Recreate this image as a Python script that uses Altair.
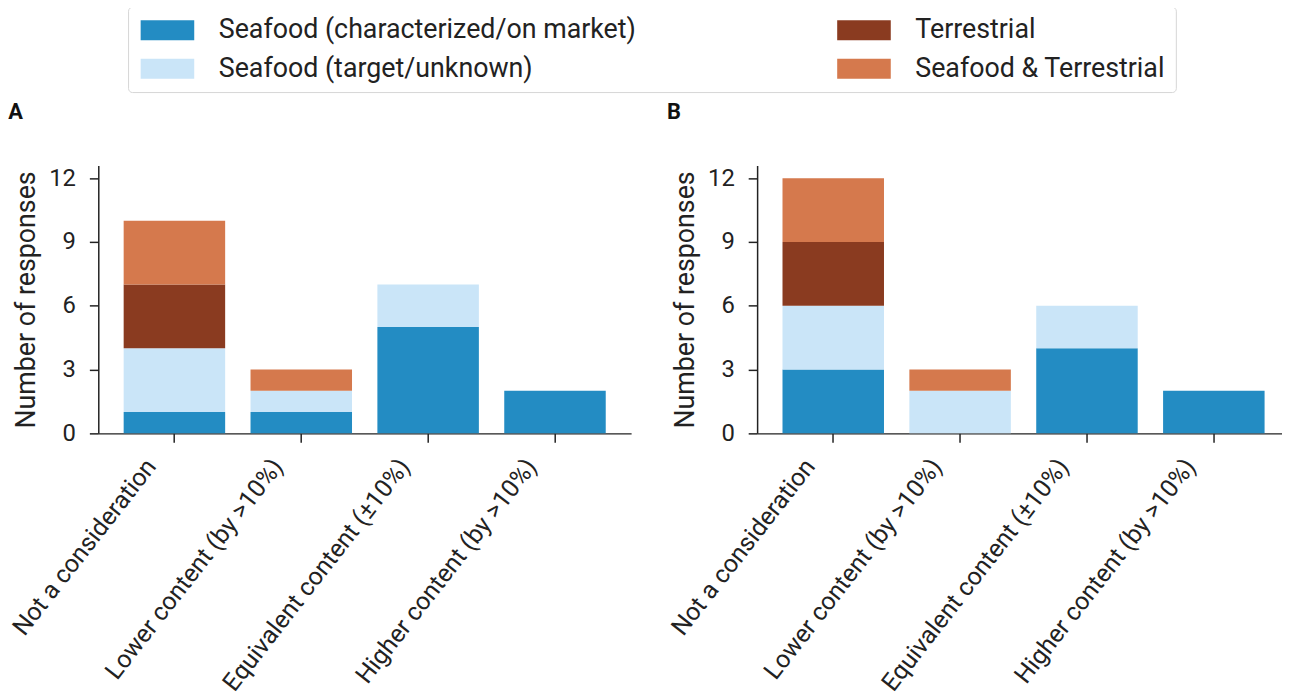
import altair as alt
import pandas as pd

categories = ["Not a consideration", "Lower content (by >10%)",
              "Equivalent content (\u00b110%)", "Higher content (by >10%)"]
groups = ["Seafood (characterized/on market)", "Seafood (target/unknown)",
          "Terrestrial", "Seafood & Terrestrial"]
group_colors = ["#238cc3", "#cae5f8", "#8a3b20", "#d5794d"]

a_characterized = [1, 1, 5, 2]
a_target = [3, 1, 2, 0]
a_terrestrial = [3, 0, 0, 0]
a_both = [3, 1, 0, 0]

b_characterized = [3, 0, 4, 2]
b_target = [3, 2, 2, 0]
b_terrestrial = [3, 0, 0, 0]
b_both = [3, 1, 0, 0]


def frame(series):
    rows = []
    for gi, (g, vals) in enumerate(zip(groups, series)):
        for c, v in zip(categories, vals):
            rows.append({"category": c, "group": g, "order": gi, "value": v})
    return pd.DataFrame(rows)


df_a = frame([a_characterized, a_target, a_terrestrial, a_both])
df_b = frame([b_characterized, b_target, b_terrestrial, b_both])

# legend order arranged so a 2-column row-major grid reads column-wise
legend_domain = [groups[0], groups[2], groups[1], groups[3]]
legend_range = [group_colors[0], group_colors[2], group_colors[1], group_colors[3]]

FONT = "Roboto"
# rectangular swatch (54 x 20 px with symbolSize below), drawn to the right of its anchor
swatch = "M-1,-0.93L4,-0.93L4,0.93L-1,0.93Z"


def panel(df, letter, show_legend, width, pad_outer, align):
    color_kwargs = dict(scale=alt.Scale(domain=legend_domain, range=legend_range))
    if show_legend:
        color_kwargs["legend"] = alt.Legend(
            title=None, orient="none", legendX=30, legendY=-160,
            columns=2, direction="horizontal", symbolType=swatch, symbolSize=466.56,
            symbolStrokeWidth=0, labelFontSize=27, labelFont=FONT, labelColor="#222222",
            labelOffset=54.4, columnPadding=199, rowPadding=11, padding=10,
            strokeColor="#d6d6d6", cornerRadius=4, fillColor="white",
            labelLimit=700,
        )
    else:
        color_kwargs["legend"] = None
    return alt.Chart(df).mark_bar().encode(
        x=alt.X("category:N", sort=categories,
                scale=alt.Scale(paddingInner=0.2, paddingOuter=pad_outer, align=align),
                axis=alt.Axis(title=None, labelAngle=-52, labelAlign="right",
                              labelBaseline="top", labelFontSize=25, labelFont=FONT,
                              labelColor="#222222", labelPadding=12, labelLimit=500,
                              labelOffset=-33,
                              tickSize=9, tickWidth=1.5, tickColor="#222222",
                              domainColor="#222222", domainWidth=1.5)),
        y=alt.Y("value:Q", stack="zero",
                scale=alt.Scale(domain=[0, 12.6], nice=False),
                axis=alt.Axis(values=[0, 3, 6, 9, 12], grid=False,
                              title="Number of responses", titleFontSize=27,
                              titleFont=FONT, titleFontWeight="normal",
                              titleColor="#222222", titlePadding=8,
                              labelFontSize=24, labelFont=FONT, labelColor="#222222",
                              labelPadding=14, tickSize=9, tickWidth=1.5,
                              tickColor="#222222", domainColor="#222222",
                              domainWidth=1.5)),
        color=alt.Color("group:N", **color_kwargs),
        order=alt.Order("order:Q"),
    ).properties(
        width=width, height=270,
        title=alt.TitleParams(letter, anchor="start", fontSize=22, fontWeight="bold",
                              font=FONT, color="#111111", offset=42),
    )


chart = alt.hconcat(
    panel(df_a, "A", True, 537, 0.2, 0.5),
    panel(df_b, "B", False, 529, 0.1687, 0.593),
    spacing=36,
).properties(
    padding={"top": -5, "left": 0, "right": 0, "bottom": 0}
).configure_view(stroke=None)

chart.save("out.html", embed_options={"renderer": "svg", "actions": False})
